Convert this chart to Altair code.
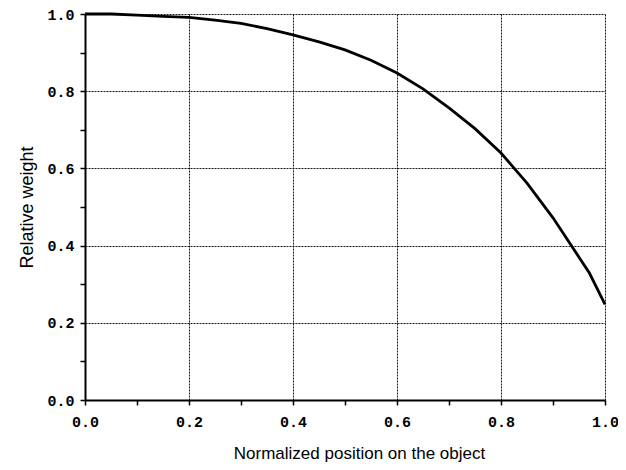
import altair as alt
import pandas as pd

x_vals = [0.0, 0.05, 0.1, 0.15, 0.2, 0.25, 0.3, 0.35, 0.4, 0.45, 0.5,
          0.55, 0.6, 0.65, 0.7, 0.75, 0.8, 0.85, 0.9, 0.95, 0.97, 1.0]
y_vals = [1.0, 1.0, 0.997, 0.994, 0.991, 0.984, 0.976, 0.962, 0.946, 0.928, 0.907,
          0.88, 0.847, 0.806, 0.757, 0.703, 0.64, 0.562, 0.472, 0.37, 0.329, 0.248]
tick_values = [0.0, 0.1, 0.2, 0.3, 0.4, 0.5, 0.6, 0.7, 0.8, 0.9, 1.0]

df = pd.DataFrame({"x": x_vals, "y": y_vals})

major = "round(datum.value*10) % 2 == 0"
label_expr = "round(datum.value*10) % 2 == 0 ? format(datum.value, '.1f') : ''"

def make_axis(title, title_size, **kw):
    return alt.Axis(
        title=title,
        values=tick_values,
        labelExpr=label_expr,
        labelFont="Liberation Mono",
        labelFontSize=15,
        labelFontWeight="bold",
        labelColor="black",
        labelFlush=False,
        titleFont="Liberation Sans",
        titleFontSize=title_size,
        titleFontWeight="normal",
        titleColor="black",
        domainColor="black",
        domainWidth=2,
        tickColor="black",
        tickSize=5,
        tickWidth=1.5,
        grid=True,
        gridColor="black",
        gridDash=[2, 1],
        gridWidth=1,
        gridOpacity=alt.condition(major, alt.value(0.9), alt.value(0)),
        **kw,
    )

chart = alt.Chart(df).mark_line(color="black", strokeWidth=2.8).encode(
    x=alt.X("x:Q", scale=alt.Scale(domain=[0, 1], nice=False),
            axis=make_axis("Normalized position on the object", 17,
                           labelPadding=9, titlePadding=16, titleX=274)),
    y=alt.Y("y:Q", scale=alt.Scale(domain=[0, 1], nice=False),
            axis=make_axis("Relative weight", 18, labelPadding=6, titlePadding=10)),
).properties(
    width=520,
    height=386,
    autosize=alt.AutoSizeParams(type="none"),
    padding={"left": 77, "top": 6, "right": 13, "bottom": 68},
).configure_view(stroke=None)

chart.save("out.html", embed_options={"renderer": "svg", "actions": False})
